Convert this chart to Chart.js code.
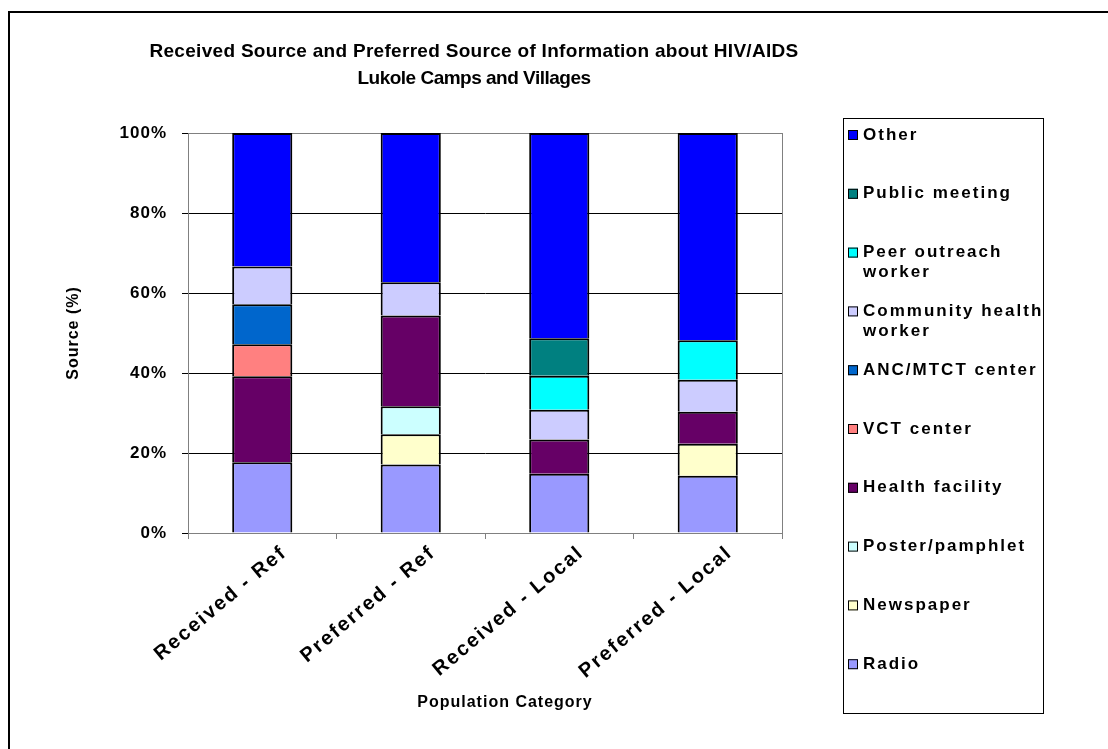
<!DOCTYPE html>
<html>
<head>
<meta charset="utf-8">
<script src="https://cdn.jsdelivr.net/npm/chart.js@4/dist/chart.umd.min.js"></script>
<style>
  html, body { margin: 0; padding: 0; background: #fff; }
</style>
</head>
<body>
<canvas id="sourceChart" width="1108" height="749"></canvas>
<script>
// categories along the x axis
const categories = ['Received - Ref', 'Preferred - Ref', 'Received - Local', 'Preferred - Local'];

// series, bottom of the stack first (percent of each bar)
const radio        = [17.7, 17.1, 14.8, 14.3];
const newspaper    = [null, 7.6, null, 8.0];
const poster       = [null, 7.0, null, null];
const healthFac    = [21.5, 22.7, 8.6, 8.0];
const vctCenter    = [8.0, null, null, null];
const ancCenter    = [10.0, null, null, null];
const communityHW  = [9.4, 8.3, 7.4, 8.0];
const peerOutreach = [null, null, 8.5, 9.9];
const publicMeet   = [null, null, 9.4, null];
const other        = [33.4, 37.3, 51.3, 51.8];

const seriesNames = ['Radio', 'Newspaper', 'Poster/pamphlet', 'Health facility', 'VCT center',
  'ANC/MTCT center', 'Community health worker', 'Peer outreach worker', 'Public meeting', 'Other'];
const seriesColors = ['#9999FF', '#FFFFCC', '#CCFFFF', '#660066', '#FF8080',
  '#0066CC', '#CCCCFF', '#00FFFF', '#008080', '#0000FF'];
const yTickValues = [0, 20, 40, 60, 80, 100];

const titleLines = ['Received Source and Preferred Source of Information about HIV/AIDS', 'Lukole Camps and Villages'];
const xAxisTitle = 'Population Category';
// legend text, wrapped like the original box
const legendLines = {
  'Peer outreach worker': ['Peer outreach', 'worker'],
  'Community health worker': ['Community health', 'worker']
};

const FONT = '"Liberation Sans", Arial, sans-serif';
const allSeries = [radio, newspaper, poster, healthFac, vctCenter, ancCenter, communityHW, peerOutreach, publicMeet, other];

// spacing of the text, frame, titles and legend box
const decorations = {
  id: 'decorations',
  beforeDraw(chart) {
    chart.ctx.letterSpacing = '1px';
  },
  beforeDatasetsDraw(chart) {
    const { ctx, chartArea: a } = chart;
    ctx.save();
    ctx.strokeStyle = '#808080';
    ctx.lineWidth = 1;
    ctx.strokeRect(a.left + 0.5, a.top + 0.5, a.right - a.left, a.bottom - a.top);
    ctx.restore();
  },
  afterDatasetsDraw(chart) {
    // x labels are drawn after this (ticks z = 1)
    chart.ctx.letterSpacing = '2px';
  },
  afterDraw(chart) {
    const { ctx } = chart;
    ctx.save();
    // outer chart border (runs off the page on the right and bottom)
    ctx.strokeStyle = '#000';
    ctx.lineWidth = 2;
    ctx.beginPath();
    ctx.moveTo(9, 760);
    ctx.lineTo(9, 12);
    ctx.lineTo(1120, 12);
    ctx.stroke();

    // title
    ctx.fillStyle = '#000';
    ctx.font = 'bold 19px ' + FONT;
    ctx.textAlign = 'center';
    ctx.textBaseline = 'middle';
    ctx.letterSpacing = '0.3px';
    ctx.fillText(titleLines[0], 474, 52);
    ctx.letterSpacing = '-0.5px';
    ctx.fillText(titleLines[1], 474, 79);

    // x axis title
    ctx.font = 'bold 16px ' + FONT;
    ctx.letterSpacing = '1px';
    ctx.fillText(xAxisTitle, 505, 703);

    // legend box
    ctx.strokeStyle = '#000';
    ctx.lineWidth = 1;
    ctx.strokeRect(843.5, 118.5, 200, 595);
    ctx.font = 'bold 17px ' + FONT;
    ctx.textAlign = 'left';
    ctx.letterSpacing = '2px';
    const n = chart.data.datasets.length;
    for (let k = 0; k < n; k++) {
      const ds = chart.data.datasets[n - 1 - k];
      const y = 135 + k * 58.8;
      ctx.fillStyle = ds.backgroundColor;
      ctx.fillRect(848, y - 5, 10, 10);
      ctx.strokeStyle = '#000';
      ctx.strokeRect(848.5, y - 4.5, 9, 9);
      ctx.fillStyle = '#000';
      const lines = legendLines[ds.label] || [ds.label];
      lines.forEach((ln, j) => ctx.fillText(ln, 863, y + j * 20));
    }
    ctx.restore();
    ctx.letterSpacing = '0px';
  }
};

const ctx = document.getElementById('sourceChart').getContext('2d');
new Chart(ctx, {
  type: 'bar',
  data: {
    labels: categories,
    datasets: seriesNames.map((name, i) => ({
      label: name,
      data: allSeries[i],
      backgroundColor: seriesColors[i],
      borderColor: '#000',
      borderWidth: 2,
      barPercentage: 0.405,
      categoryPercentage: 1
    }))
  },
  options: {
    responsive: false,
    animation: false,
    layout: { padding: { left: 8, top: 133, right: 326, bottom: 0 } },
    plugins: {
      legend: { display: false },
      title: { display: false },
      tooltip: { enabled: false }
    },
    scales: {
      x: {
        stacked: true,
        afterFit: s => { s.height = 216; },
        grid: { drawOnChartArea: false, drawTicks: true, tickLength: 6, color: '#808080', offset: true },
        border: { color: '#808080' },
        ticks: {
          z: 1,
          color: '#000', font: { family: FONT, size: 20, weight: 'bold' },
          minRotation: 40, maxRotation: 40, padding: 2, labelOffset: 22
        }
      },
      y: {
        stacked: true,
        min: 0, max: 100,
        afterFit: s => { s.width = 180; },
        afterBuildTicks: s => { s.ticks = yTickValues.map(v => ({ value: v })); },
        grid: {
          color: c => (c.tick && c.tick.value === 100 ? '#808080' : '#000'),
          tickColor: '#000', tickLength: 6
        },
        border: { color: '#000' },
        ticks: {
          color: '#000', padding: 15,
          font: { family: FONT, size: 17, weight: 'bold' },
          callback: v => v + '%'
        },
        title: {
          display: true, text: 'Source (%)', color: '#000',
          font: { family: FONT, size: 16, weight: 'bold' }, padding: { top: 56, bottom: 0 }
        }
      }
    }
  },
  plugins: [decorations]
});
</script>
</body>
</html>
